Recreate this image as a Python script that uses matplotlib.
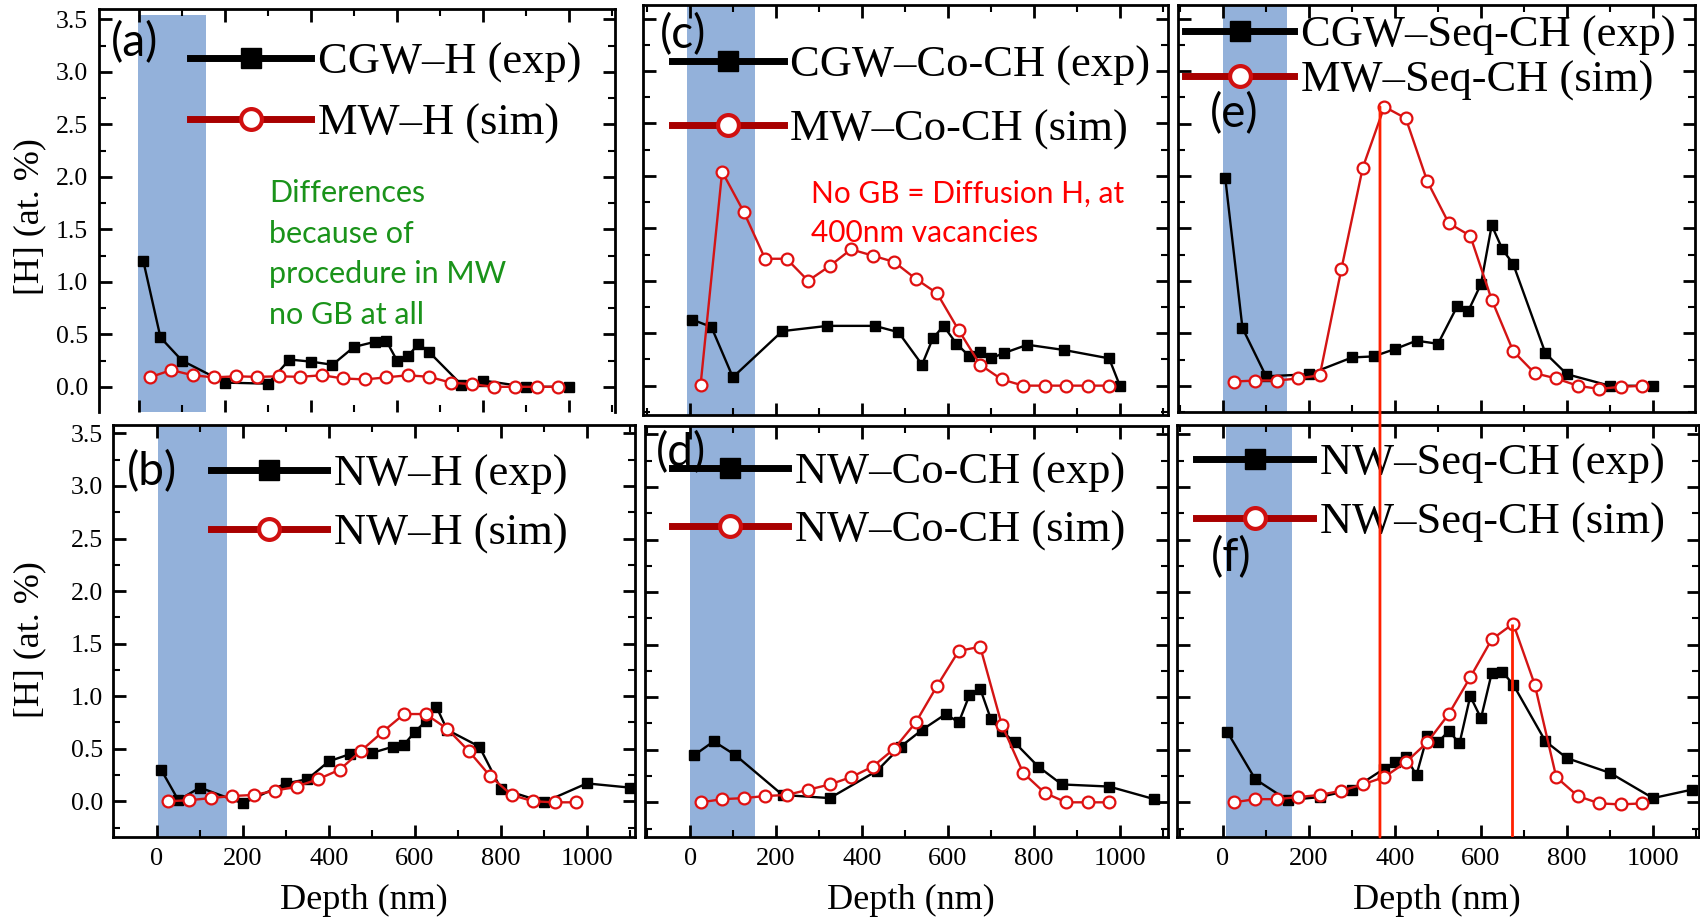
import matplotlib
matplotlib.use("Agg")
import matplotlib.pyplot as plt
from matplotlib.lines import Line2D
from matplotlib.patches import ConnectionPatch
from matplotlib.ticker import MultipleLocator, FormatStrFormatter

# ---------------- data ----------------
sim_x = [25, 75, 125, 175, 225, 275, 325, 375, 425, 475,
         525, 575, 625, 675, 725, 775, 825, 875, 925, 975]

a_exp_x = [10, 50, 100, 200, 300, 350, 400, 450, 500, 550, 575, 600, 625, 650, 675, 750, 800, 900, 1000]
a_exp_y = [1.20, 0.47, 0.25, 0.04, 0.03, 0.26, 0.24, 0.21, 0.38, 0.43, 0.44, 0.25, 0.29, 0.41, 0.33, 0.02, 0.06, 0.0, 0.0]
a_sim_y = [0.09, 0.16, 0.11, 0.09, 0.10, 0.095, 0.10, 0.095, 0.11, 0.08,
           0.07, 0.09, 0.11, 0.095, 0.04, 0.025, 0.0, 0.0, 0.0, 0.0]

b_exp_x = [10, 50, 100, 200, 300, 350, 400, 450, 500, 550, 575, 600, 625, 650, 675, 750, 800, 900, 1000, 1100]
b_exp_y = [0.30, 0.01, 0.13, -0.02, 0.17, 0.21, 0.38, 0.45, 0.46, 0.52, 0.54, 0.66, 0.76, 0.90, 0.68, 0.52, 0.12, -0.01, 0.17, 0.13]
b_sim_y = [0.0, 0.01, 0.03, 0.05, 0.06, 0.10, 0.14, 0.21, 0.30, 0.48,
           0.66, 0.83, 0.83, 0.69, 0.48, 0.24, 0.06, 0.0, -0.01, -0.01]

c_exp_x = [5, 50, 100, 215, 320, 430, 485, 540, 565, 590, 620, 650, 675, 700, 730, 785, 870, 975, 1000]
c_exp_y = [0.63, 0.56, 0.08, 0.52, 0.57, 0.57, 0.51, 0.20, 0.45, 0.57, 0.40, 0.28, 0.32, 0.26, 0.31, 0.39, 0.34, 0.26, 0.0]
c_sim_y = [0.01, 2.04, 1.66, 1.21, 1.21, 1.00, 1.14, 1.30, 1.24, 1.18,
           1.02, 0.88, 0.53, 0.20, 0.06, 0.0, 0.0, 0.0, 0.0, 0.0]

d_exp_x = [10, 55, 105, 215, 325, 435, 490, 540, 595, 625, 650, 675, 700, 725, 755, 810, 865, 975, 1080]
d_exp_y = [0.45, 0.58, 0.45, 0.07, 0.04, 0.30, 0.53, 0.69, 0.84, 0.76, 1.02, 1.08, 0.79, 0.68, 0.57, 0.34, 0.17, 0.15, 0.03]
d_sim_y = [0.0, 0.03, 0.04, 0.06, 0.07, 0.12, 0.17, 0.24, 0.34, 0.51,
           0.76, 1.11, 1.44, 1.48, 0.74, 0.28, 0.09, 0.0, 0.0, 0.0]

e_exp_x = [5, 45, 100, 200, 300, 350, 400, 450, 500, 545, 570, 600, 625, 650, 675, 750, 800, 900, 1000]
e_exp_y = [1.98, 0.55, 0.09, 0.11, 0.27, 0.28, 0.35, 0.43, 0.40, 0.76, 0.71, 0.97, 1.53, 1.30, 1.16, 0.31, 0.11, 0.0, 0.0]
e_sim_y = [0.04, 0.05, 0.05, 0.07, 0.10, 1.11, 2.08, 2.66, 2.55, 1.95,
           1.55, 1.43, 0.82, 0.33, 0.12, 0.07, 0.0, -0.03, -0.01, 0.0]

f_exp_x = [10, 75, 150, 225, 300, 375, 400, 425, 450, 475, 500, 525, 550, 575, 600, 625, 650, 675, 750, 800, 900, 1000, 1090]
f_exp_y = [0.67, 0.22, 0.02, 0.05, 0.12, 0.32, 0.38, 0.43, 0.26, 0.63, 0.57, 0.68, 0.56, 1.01, 0.80, 1.23, 1.24, 1.12, 0.58, 0.42, 0.28, 0.04, 0.12]
f_sim_y = [0.0, 0.03, 0.03, 0.05, 0.07, 0.11, 0.17, 0.24, 0.38, 0.57,
           0.84, 1.19, 1.55, 1.70, 1.12, 0.24, 0.06, -0.01, -0.02, -0.01]

labels_exp = ["CGW\u2013H (exp)", "NW\u2013H (exp)", "CGW\u2013Co-CH (exp)",
              "NW\u2013Co-CH (exp)", "CGW\u2013Seq-CH (exp)", "NW\u2013Seq-CH (exp)"]
labels_sim = ["MW\u2013H (sim)", "NW\u2013H (sim)", "MW\u2013Co-CH (sim)",
              "NW\u2013Co-CH (sim)", "MW\u2013Seq-CH (sim)", "NW\u2013Seq-CH (sim)"]
panel_tags = ["(a)", "(b)", "(c)", "(d)", "(e)", "(f)"]

# shaded near-surface band (nm)
bands = [(-2, 156), (2, 162), (-7, 151), (0, 151), (0, 149), (7, 160)]
# red guide lines (nm)
guide_x = [365, 672]

note_green = "Differences\nbecause of\nprocedure in MW\nno GB at all"
note_red = "No GB = Diffusion H, at\n400nm vacancies"

# ---------------- layout ----------------
W, H = 1700, 922
plt.rcParams['font.family'] = ['Liberation Serif', 'DejaVu Serif']
fig = plt.figure(figsize=(W / 100, H / 100), dpi=100)
fig.patch.set_facecolor('white')

# pixel boxes (left, right, top, bottom), x-limits, y-limits
boxes = {
    'a': ((99, 615, 9, 412), (-93, 1107), (-0.24, 3.60)),
    'b': ((113, 635, 425, 837), (-102, 1112), (-0.34, 3.58)),
    'c': ((643, 1168, 5, 415), (-109, 1112), (-0.28, 3.63)),
    'd': ((645, 1168, 426, 837), (-105, 1112), (-0.33, 3.58)),
    'e': ((1178, 1695, 5, 412), (-105, 1098), (-0.25, 3.63)),
    'f': ((1177, 1699, 425, 837), (-107, 1107), (-0.33, 3.59)),
}
order = ['a', 'b', 'c', 'd', 'e', 'f']
exp_x = [a_exp_x, b_exp_x, c_exp_x, d_exp_x, e_exp_x, f_exp_x]
exp_y = [a_exp_y, b_exp_y, c_exp_y, d_exp_y, e_exp_y, f_exp_y]
sim_y = [a_sim_y, b_sim_y, c_sim_y, d_sim_y, e_sim_y, f_sim_y]

band_color = '#93b1da'
sim_color = '#d41414'
leg_red = '#a80000'
LEG_FS = 32

# legend: handle-left px, row-mid px, labelspacing, handlelength
leg_pos = [(190, 93, 0.45, 2.73), (211, 504, 0.42, 2.62), (672, 98, 0.52, 2.51),
           (672, 502, 0.40, 2.62), (1185, 58, 0.11, 2.46), (1196, 493, 0.42, 2.64)]
tag_pos = [(135, 43), (152, 472), (683, 35), (681, 453), (1234, 114), (1231, 558)]

axes = {}
for i, key in enumerate(order):
    (L, R, T, B), xl, yl = boxes[key]
    ax = fig.add_axes([L / W, 1 - B / H, (R - L) / W, (B - T) / H])
    axes[key] = ax
    ax.set_xlim(*xl)
    ax.set_ylim(*yl)
    b0, b1 = bands[i]
    if key == 'a':
        ax.axvspan(b0, b1, ymin=0, ymax=(3.54 - yl[0]) / (yl[1] - yl[0]),
                   color=band_color, lw=0, zorder=0)
    else:
        ax.axvspan(b0, b1, color=band_color, lw=0, zorder=0)

    ax.plot(exp_x[i], exp_y[i], '-', color='black', lw=1.7, marker='s', ms=6.5,
            mfc='black', mec='black', zorder=3)
    ax.plot(sim_x, sim_y[i], '-', color=sim_color, lw=1.7, marker='o', ms=8.5,
            mfc='white', mec='#e01010', mew=1.6, zorder=4)

    ax.xaxis.set_major_locator(MultipleLocator(200))
    ax.xaxis.set_minor_locator(MultipleLocator(100))
    ax.yaxis.set_major_locator(MultipleLocator(0.5))
    ax.yaxis.set_minor_locator(MultipleLocator(0.25))
    ax.tick_params(which='both', direction='in', top=True, right=True)
    ax.tick_params(which='major', length=9, width=2)
    ax.tick_params(which='minor', length=5, width=1.5)
    ax.tick_params(axis='x', labelsize=19)
    ax.tick_params(axis='y', labelsize=18.5)
    ax.yaxis.set_major_formatter(FormatStrFormatter('%.1f'))
    for s in ax.spines.values():
        s.set_linewidth(2)
    if key in ('a', 'c', 'e'):
        ax.tick_params(axis='x', labelbottom=False)
    else:
        ax.tick_params(axis='x', pad=8)
    if key in ('c', 'd', 'e', 'f'):
        ax.tick_params(axis='y', labelleft=False)
    if key == 'a':
        ax.tick_params(axis='y', pad=8)
        ax.spines['bottom'].set_visible(False)
    if key == 'b':
        ax.tick_params(axis='y', pad=7)

    h_exp = Line2D([], [], color='black', lw=5, marker='s', ms=15, mfc='black', mec='black')
    h_sim = Line2D([], [], color=leg_red, lw=5, marker='o', ms=15, mfc='white',
                   mec='#d01010', mew=3)
    lx, ly, lsp, hl = leg_pos[i]
    ax.legend([h_exp, h_sim], [labels_exp[i], labels_sim[i]], loc='center left',
              bbox_to_anchor=(lx / W, 1 - ly / H), bbox_transform=fig.transFigure,
              frameon=False, fontsize=LEG_FS, handlelength=hl, handletextpad=0.15,
              labelspacing=lsp, borderpad=0, borderaxespad=0)

    tx, ty = tag_pos[i]
    fig.text(tx / W, 1 - ty / H, panel_tags[i], family='Lato', fontsize=33,
             ha='center', va='center')

# axis labels
for ylab_y in (217, 640):
    fig.text(30 / W, 1 - ylab_y / H, "[H] (at. %)", rotation=90, fontsize=26,
             ha='center', va='center')
for xlab_x in (364, 911, 1437):
    fig.text(xlab_x / W, 1 - 900 / H, "Depth (nm)", fontsize=26, ha='center', va='center')

# annotations
fig.text(269 / W, 1 - 179 / H, note_green, family='Lato', fontsize=22, color='#1a931a',
         ha='left', va='top', linespacing=1.55)
fig.text(811 / W, 1 - 180 / H, note_red, family='Lato', fontsize=21.5, color='#ff0000',
         ha='left', va='top', linespacing=1.48)

# red guide lines
ax_e, ax_f = axes['e'], axes['f']
con = ConnectionPatch(xyA=(guide_x[0], max(e_sim_y)), coordsA=ax_e.transData,
                      xyB=(guide_x[0], ax_f.get_ylim()[0]), coordsB=ax_f.transData,
                      color='#ff2000', lw=2, zorder=10)
fig.add_artist(con)
ax_f.vlines(guide_x[1], ax_f.get_ylim()[0], max(f_sim_y), color='#ff2000', lw=2, zorder=10)

fig.savefig('out.png', dpi=100, facecolor='white')
